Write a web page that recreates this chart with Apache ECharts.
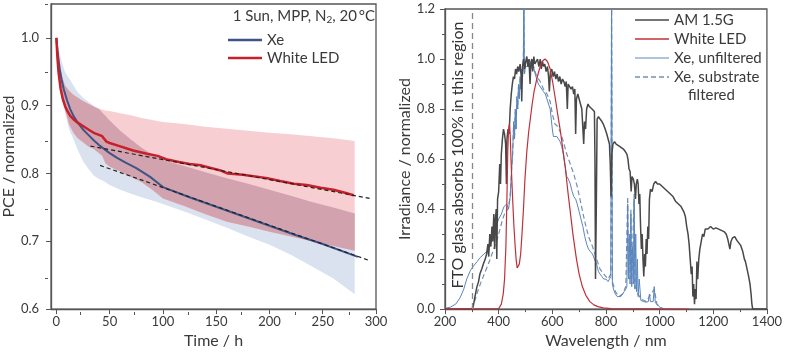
<!DOCTYPE html>
<html>
<head>
<meta charset="utf-8">
<script src="https://cdn.jsdelivr.net/npm/echarts@6/dist/echarts.min.js"></script>
<style>
  html, body { margin: 0; padding: 0; background: #fff; }
  #chart { width: 785px; height: 354px; }
</style>
</head>
<body>
<div id="chart"></div>
<script>
// ---- left panel: PCE vs time ----
const xeT = [0, 1, 2, 3, 5, 7, 10, 13, 16, 20, 25, 30, 35, 40, 45, 50, 57, 65, 75, 88, 100, 125, 150, 175, 200, 225, 250, 283];
const xePce = [1.0, 0.982, 0.968, 0.955, 0.938, 0.924, 0.908, 0.895, 0.885, 0.875, 0.865, 0.857, 0.849, 0.842, 0.836, 0.83, 0.823, 0.816, 0.808, 0.795, 0.78, 0.765, 0.751, 0.737, 0.723, 0.709, 0.696, 0.677];

const ledT = [0, 1, 2, 3, 4, 6, 8, 10, 13, 16, 20, 25, 30, 35, 40, 43, 45, 47, 50, 60, 72, 85, 95, 103, 115, 125, 136, 145, 155, 161, 175, 190, 198, 210, 223, 235, 248, 260, 270, 279];
const ledPce = [1.0, 0.97, 0.95, 0.937, 0.925, 0.91, 0.9, 0.893, 0.885, 0.88, 0.875, 0.87, 0.865, 0.86, 0.857, 0.855, 0.851, 0.847, 0.845, 0.84, 0.834, 0.829, 0.826, 0.821, 0.817, 0.814, 0.812, 0.808, 0.804, 0.8, 0.798, 0.795, 0.793, 0.789, 0.785, 0.783, 0.779, 0.776, 0.772, 0.768];

// spread bands
const bandT = [0, 2, 5, 8, 12, 16, 20, 25, 30, 35, 40, 43, 46, 50, 60, 70, 80, 90, 100, 120, 140, 160, 180, 200, 220, 240, 260, 280];
const xeUp = [1.0, 0.985, 0.965, 0.95, 0.94, 0.93, 0.92, 0.912, 0.906, 0.9, 0.895, 0.89, 0.885, 0.878, 0.863, 0.85, 0.838, 0.828, 0.82, 0.811, 0.802, 0.793, 0.785, 0.776, 0.767, 0.758, 0.75, 0.741];
const xeLow = [1.0, 0.955, 0.92, 0.89, 0.865, 0.851, 0.835, 0.818, 0.807, 0.797, 0.792, 0.79, 0.787, 0.783, 0.776, 0.77, 0.765, 0.76, 0.755, 0.744, 0.732, 0.72, 0.707, 0.695, 0.68, 0.663, 0.645, 0.622];
const ledUp = [1.0, 0.975, 0.945, 0.93, 0.922, 0.916, 0.912, 0.907, 0.903, 0.899, 0.896, 0.894, 0.893, 0.892, 0.889, 0.886, 0.882, 0.879, 0.876, 0.873, 0.869, 0.866, 0.863, 0.86, 0.858, 0.855, 0.852, 0.848];
const ledLow = [1.0, 0.95, 0.92, 0.895, 0.872, 0.86, 0.852, 0.846, 0.84, 0.836, 0.83, 0.826, 0.815, 0.81, 0.803, 0.795, 0.787, 0.776, 0.763, 0.752, 0.74, 0.729, 0.722, 0.714, 0.707, 0.7, 0.693, 0.686];

// linear fits (end points)
const fitLedT = [32, 295];
const fitLed = [0.8405, 0.763];
const fitXeT = [41, 295];
const fitXe = [0.812, 0.671];

// ---- right panel: spectra ----
const amWl = [200, 300, 305, 310, 318, 325, 330, 337, 343, 350, 355, 360, 363, 367, 371, 375, 378, 382, 385, 388, 391, 393, 396, 400, 404, 407, 410, 414, 418, 422, 426, 429, 431, 435, 439, 443, 447, 451, 455, 459, 463, 467, 471, 475, 480, 484, 486, 489, 493, 497, 501, 505, 509, 513, 517, 520, 524, 527, 531, 535, 540, 545, 550, 555, 559, 563, 568, 572, 577, 582, 586, 589, 593, 598, 603, 608, 613, 618, 623, 628, 633, 638, 643, 648, 652, 656, 659, 665, 670, 675, 680, 684, 687, 690, 695, 700, 705, 710, 714, 717, 720, 724, 728, 733, 738, 743, 748, 752, 757, 759, 761, 764, 767, 772, 778, 785, 790, 797, 803, 808, 813, 816, 819, 822, 826, 832, 838, 845, 852, 859, 865, 872, 878, 882, 886, 890, 894, 897, 902, 906, 910, 913, 917, 920, 923, 926, 929, 932, 935, 938, 941, 944, 947, 950, 953, 956, 959, 962, 966, 972, 978, 985, 992, 1000, 1010, 1020, 1030, 1040, 1050, 1060, 1070, 1080, 1090, 1096, 1101, 1106, 1110, 1114, 1118, 1121, 1124, 1127, 1130, 1133, 1136, 1139, 1142, 1146, 1150, 1155, 1160, 1165, 1170, 1180, 1190, 1200, 1210, 1220, 1230, 1240, 1248, 1254, 1258, 1262, 1266, 1272, 1280, 1288, 1295, 1302, 1310, 1316, 1320, 1326, 1332, 1337, 1341, 1344, 1347, 1400];
const amVal = [0, 0, 0.01, 0.04, 0.085, 0.11, 0.14, 0.16, 0.18, 0.2, 0.22, 0.26, 0.21, 0.3, 0.25, 0.33, 0.27, 0.38, 0.24, 0.36, 0.4, 0.2, 0.44, 0.47, 0.58, 0.5, 0.62, 0.68, 0.72, 0.7, 0.66, 0.5, 0.68, 0.72, 0.7, 0.8, 0.86, 0.9, 0.93, 0.92, 0.96, 0.94, 0.97, 0.95, 0.98, 0.93, 0.83, 0.97, 1.0, 0.96, 0.99, 1.01, 0.97, 1.0, 0.9, 0.98, 1.0, 0.95, 1.01, 0.98, 0.99, 1.0, 0.97, 1.0, 0.96, 0.99, 0.97, 0.98, 0.95, 0.97, 0.93, 0.87, 0.95, 0.96, 0.93, 0.95, 0.92, 0.94, 0.91, 0.93, 0.9, 0.92, 0.91, 0.89, 0.91, 0.8, 0.9, 0.9, 0.88, 0.89, 0.86, 0.88, 0.7, 0.84, 0.86, 0.84, 0.82, 0.8, 0.72, 0.66, 0.75, 0.72, 0.8, 0.82, 0.81, 0.81, 0.8, 0.8, 0.79, 0.6, 0.12, 0.4, 0.76, 0.77, 0.76, 0.75, 0.74, 0.72, 0.7, 0.68, 0.66, 0.58, 0.45, 0.62, 0.66, 0.67, 0.66, 0.66, 0.65, 0.65, 0.64, 0.63, 0.62, 0.6, 0.56, 0.55, 0.47, 0.53, 0.52, 0.5, 0.44, 0.5, 0.52, 0.5, 0.42, 0.46, 0.33, 0.24, 0.3, 0.2, 0.13, 0.22, 0.17, 0.28, 0.22, 0.33, 0.28, 0.44, 0.48, 0.47, 0.5, 0.51, 0.5, 0.5, 0.49, 0.48, 0.47, 0.46, 0.45, 0.43, 0.42, 0.41, 0.39, 0.37, 0.33, 0.3, 0.26, 0.2, 0.14, 0.17, 0.05, 0.1, 0.02, 0.08, 0.04, 0.19, 0.12, 0.2, 0.24, 0.27, 0.3, 0.29, 0.32, 0.32, 0.33, 0.32, 0.325, 0.32, 0.315, 0.31, 0.3, 0.28, 0.26, 0.24, 0.27, 0.285, 0.29, 0.275, 0.265, 0.255, 0.23, 0.2, 0.19, 0.16, 0.13, 0.1, 0.06, 0.02, 0, 0];

const ledWl = [200, 400, 410, 417, 422, 427, 431, 434, 437, 440, 443, 446, 449, 453, 457, 461, 465, 469, 473, 477, 482, 487, 492, 498, 505, 512, 518, 525, 532, 542, 552, 562, 573, 582, 592, 601, 610, 620, 629, 638, 648, 658, 668, 678, 690, 700, 712, 725, 740, 755, 770, 790, 820, 1110];
const ledVal = [0, 0.002, 0.02, 0.06, 0.12, 0.25, 0.45, 0.63, 0.72, 0.74, 0.7, 0.6, 0.52, 0.42, 0.33, 0.26, 0.2, 0.165, 0.16, 0.18, 0.22, 0.3, 0.39, 0.52, 0.63, 0.71, 0.76, 0.82, 0.87, 0.92, 0.96, 0.99, 1.0, 0.99, 0.96, 0.91, 0.85, 0.78, 0.72, 0.65, 0.57, 0.47, 0.38, 0.29, 0.2, 0.14, 0.09, 0.055, 0.03, 0.017, 0.01, 0.005, 0.002, 0];

const xeWl = [200, 220, 240, 256, 270, 281, 295, 306, 320, 330, 345, 360, 370, 380, 390, 400, 410, 420, 430, 437, 443, 448, 452, 456, 459, 462, 465, 468, 471, 474, 477, 480, 483, 486, 489, 492, 494, 496, 500, 505, 510, 515, 520, 525, 530, 536, 542, 548, 555, 561, 567, 574, 580, 586, 592, 596, 600, 604, 610, 617, 623, 629, 635, 641, 648, 654, 660, 667, 674, 680, 687, 693, 700, 707, 714, 721, 728, 735, 742, 750, 757, 765, 772, 778, 785, 792, 800, 808, 814, 818, 821, 824, 828, 835, 842, 848, 855, 862, 868, 874, 878, 881, 884, 887, 890, 893, 896, 899, 902, 905, 908, 911, 914, 917, 920, 924, 930, 940, 950, 958, 962, 966, 970, 976, 980, 984, 990, 1002, 1020];
const xeVal = [0.003, 0.008, 0.02, 0.045, 0.08, 0.12, 0.155, 0.172, 0.19, 0.205, 0.22, 0.235, 0.26, 0.3, 0.33, 0.36, 0.38, 0.41, 0.42, 0.4, 0.45, 0.55, 0.62, 0.75, 0.68, 0.8, 0.72, 0.85, 0.8, 0.9, 0.84, 0.93, 0.88, 0.96, 0.93, 0.98, 1.25, 0.94, 0.98, 1.0, 0.97, 1.0, 0.98, 0.96, 0.97, 0.94, 0.92, 0.9, 0.9, 0.88, 0.87, 0.86, 0.84, 0.82, 0.8, 0.76, 0.72, 0.69, 0.685, 0.69, 0.68, 0.67, 0.65, 0.62, 0.57, 0.53, 0.52, 0.5, 0.47, 0.45, 0.44, 0.42, 0.39, 0.36, 0.33, 0.29, 0.26, 0.24, 0.23, 0.22, 0.2, 0.18, 0.15, 0.14, 0.13, 0.12, 0.12, 0.11, 0.11, 0.13, 1.25, 0.1, 0.08, 0.06, 0.05, 0.045, 0.05, 0.055, 0.07, 0.08, 0.09, 0.42, 0.12, 0.3, 0.1, 0.38, 0.09, 0.25, 0.1, 0.44, 0.08, 0.3, 0.07, 0.2, 0.05, 0.12, 0.035, 0.03, 0.028, 0.03, 0.06, 0.03, 0.035, 0.03, 0.09, 0.025, 0.02, 0.007, 0];

const xfWl = [300, 310, 320, 335, 350, 365, 380, 395, 405, 415, 425, 435, 443, 448, 452, 456, 459, 462, 465, 468, 471, 474, 477, 480, 483, 486, 489, 492, 494, 496, 500, 510, 520, 530, 542, 555, 567, 580, 592, 600, 610, 620, 629, 641, 654, 667, 680, 693, 707, 721, 735, 750, 765, 778, 792, 808, 818, 821, 824, 835, 848, 862, 874, 881, 884, 890, 893, 896, 905, 908, 914, 920, 930, 950, 980, 990, 1010];
const xfVal = [0, 0.03, 0.065, 0.11, 0.15, 0.19, 0.235, 0.28, 0.32, 0.36, 0.39, 0.4, 0.45, 0.55, 0.62, 0.74, 0.68, 0.79, 0.72, 0.84, 0.8, 0.89, 0.84, 0.92, 0.88, 0.95, 0.93, 0.97, 1.25, 0.94, 0.97, 0.97, 0.98, 0.97, 0.93, 0.91, 0.88, 0.86, 0.83, 0.78, 0.74, 0.73, 0.71, 0.67, 0.62, 0.58, 0.54, 0.49, 0.42, 0.35, 0.29, 0.25, 0.2, 0.16, 0.14, 0.12, 0.14, 1.25, 0.11, 0.07, 0.05, 0.06, 0.09, 0.45, 0.13, 0.12, 0.4, 0.1, 0.46, 0.09, 0.08, 0.06, 0.04, 0.03, 0.08, 0.02, 0];

const ftoEdge = [300];

const timeTicks = [0, 50, 100, 150, 200, 250, 300];
const timeMinor = [25, 75, 125, 175, 225, 275];
const pceTicks = [0.6, 0.7, 0.8, 0.9, 1.0];
const pceMinor = [0.65, 0.75, 0.85, 0.95, 1.05];

const zip = (a, b) => a.map((v, i) => [v, b[i]]);

// overlap of the two spreads
const ovLow = bandT.map((t, i) => Math.max(xeLow[i], ledLow[i]));
const ovUp = bandT.map((t, i) => Math.max(ovLow[i], Math.min(xeUp[i], ledUp[i])));

const txt = '#3a3a3a';
const axisCol = '#555';
const font = 'Lato';

const colXe = '#3d5488', colLed = '#c8202a';
const colAm = '#484848', colLed2 = '#c0303a', colXeU = '#5a86bd', colXeF = '#7590ab';

function band(low, up, color) {
  return {
    type: 'custom', xAxisIndex: 0, yAxisIndex: 0, silent: true, clip: true,
    data: bandT.map((t, i) => [t, low[i], up[i]]),
    encode: { x: 0, y: [1, 2] },
    renderItem: (params, api) => {
      if (params.dataIndex !== 0) return;
      const top = bandT.map((t, i) => api.coord([t, up[i]]));
      const bot = bandT.map((t, i) => api.coord([t, low[i]])).reverse();
      return { type: 'polygon', shape: { points: top.concat(bot) }, style: { fill: color } };
    }
  };
}

// hand-placed legend rows
function legendRow(x, y, label, color, width, dash) {
  return [
    { type: 'line', shape: { x1: x, y1: y, x2: x + 34, y2: y },
      style: { stroke: color, lineWidth: width, lineDash: dash || null } },
    { type: 'text', x: x + 39, y: y,
      style: { text: label, align: 'left', verticalAlign: 'middle', fontSize: 15, fill: txt, fontFamily: font } }
  ];
}

const chart = echarts.init(document.getElementById('chart'));

chart.setOption({
  animation: false,
  textStyle: { fontFamily: font },
  grid: [
    { left: 48, top: 4, width: 328, height: 308, show: true, borderColor: axisCol, borderWidth: 1.3 },
    { left: 445, top: 9, width: 322, height: 303, show: true, borderColor: axisCol, borderWidth: 1.3 },
    { left: 48, top: 4, width: 328, height: 308 }
  ],
  xAxis: [
    { gridIndex: 0, type: 'value', min: -5, max: 300,
      name: 'Time / h', nameLocation: 'middle', nameGap: 22,
      nameTextStyle: { fontSize: 16, color: txt, fontFamily: font },
      axisLine: { onZero: false, lineStyle: { color: axisCol, width: 1.3 } },
      axisTick: { customValues: timeTicks, length: 5, lineStyle: { color: axisCol } },
      axisLabel: { customValues: timeTicks, margin: 6, fontSize: 13, color: txt },
      splitLine: { show: false } },
    { gridIndex: 1, type: 'value', min: 200, max: 1400, interval: 200,
      name: 'Wavelength / nm', nameLocation: 'middle', nameGap: 22,
      nameTextStyle: { fontSize: 16, color: txt, fontFamily: font },
      axisLine: { onZero: false, lineStyle: { color: axisCol, width: 1.3 } },
      axisTick: { length: 5, lineStyle: { color: axisCol } },
      minorTick: { show: true, splitNumber: 2, length: 3, lineStyle: { color: axisCol } },
      axisLabel: { margin: 6, fontSize: 13, color: txt, formatter: v => String(v) },
      splitLine: { show: false } },
    { gridIndex: 2, type: 'value', min: -5, max: 300,
      axisLine: { show: false, onZero: false },
      axisTick: { customValues: timeMinor, length: 3, lineStyle: { color: axisCol } },
      axisLabel: { show: false }, splitLine: { show: false } }
  ],
  yAxis: [
    { gridIndex: 0, type: 'value', min: 0.6, max: 1.05,
      name: 'PCE / normalized', nameLocation: 'middle', nameGap: 31,
      nameTextStyle: { fontSize: 16, color: txt, fontFamily: font },
      axisLine: { show: true, onZero: false, lineStyle: { color: axisCol, width: 1.3 } },
      axisTick: { show: true, customValues: pceTicks, length: 5, lineStyle: { color: axisCol } },
      axisLabel: { customValues: pceTicks, margin: 12, fontSize: 13, color: txt, formatter: v => v.toFixed(1) },
      splitLine: { show: false } },
    { gridIndex: 1, type: 'value', min: 0, max: 1.2, interval: 0.2,
      name: 'Irradiance / normalized', nameLocation: 'middle', nameGap: 27,
      nameTextStyle: { fontSize: 16, color: txt, fontFamily: font },
      axisLine: { show: true, onZero: false, lineStyle: { color: axisCol, width: 1.3 } },
      axisTick: { show: true, length: 5, lineStyle: { color: axisCol } },
      minorTick: { show: true, splitNumber: 2, length: 3, lineStyle: { color: axisCol } },
      axisLabel: { margin: 10, fontSize: 13, color: txt, formatter: v => v.toFixed(1) },
      splitLine: { show: false } },
    { gridIndex: 2, type: 'value', min: 0.6, max: 1.05,
      axisLine: { show: false, onZero: false },
      axisTick: { show: true, customValues: pceMinor, length: 3, lineStyle: { color: axisCol } },
      axisLabel: { show: false }, splitLine: { show: false } }
  ],
  graphic: [
    { type: 'text', x: 375, y: 16,
      style: { text: '{a|1 Sun, MPP, N}{s|2}{a|, 20\u2009°C}', align: 'right', verticalAlign: 'middle',
        rich: { a: { fontSize: 15, lineHeight: 18, fill: txt, fontFamily: font },
                s: { fontSize: 10, lineHeight: 10, verticalAlign: 'bottom', fill: txt, fontFamily: font } } } },
    ...legendRow(228, 40, 'Xe', colXe, 2.5),
    ...legendRow(228, 58, 'White LED', colLed, 2.5),
    { type: 'text', x: 458, y: 155, rotation: Math.PI / 2,
      style: { text: 'FTO glass absorbs 100% in this region', align: 'center', verticalAlign: 'middle',
        fontSize: 16, fill: '#333', fontFamily: font } },
    ...legendRow(635, 20, 'AM 1.5G', colAm, 1.5),
    ...legendRow(635, 39, 'White LED', colLed2, 1.3),
    ...legendRow(635, 58, 'Xe, unfiltered', colXeU, 1),
    ...legendRow(635, 77, 'Xe, substrate', colXeF, 1.3, [5, 3]),
    { type: 'text', x: 688, y: 95,
      style: { text: 'filtered', align: 'left', verticalAlign: 'middle', fontSize: 15, fill: txt, fontFamily: font } }
  ],
  series: [
    band(xeLow, xeUp, '#d9e2ee'),
    band(ledLow, ledUp, '#f7cfd2'),
    band(ovLow, ovUp, '#d2a3ae'),
    { type: 'line', name: 'Xe', xAxisIndex: 0, yAxisIndex: 0, data: zip(xeT, xePce),
      symbol: 'none', lineStyle: { color: colXe, width: 2 } },
    { type: 'line', name: 'White LED', xAxisIndex: 0, yAxisIndex: 0, data: zip(ledT, ledPce),
      symbol: 'none', lineStyle: { color: colLed, width: 2.5 } },
    { type: 'line', name: 'fitLed', xAxisIndex: 0, yAxisIndex: 0, data: zip(fitLedT, fitLed),
      symbol: 'none', silent: true, lineStyle: { color: '#222', width: 1.2, type: [4, 3] } },
    { type: 'line', name: 'fitXe', xAxisIndex: 0, yAxisIndex: 0, data: zip(fitXeT, fitXe),
      symbol: 'none', silent: true, lineStyle: { color: '#222', width: 1.2, type: [4, 3] } },

    { type: 'line', name: 'Xe, substrate filtered', xAxisIndex: 1, yAxisIndex: 1, data: zip(xfWl, xfVal),
      symbol: 'none', lineStyle: { color: colXeF, width: 1.2, type: [5, 3] },
      markLine: { silent: true, symbol: 'none', label: { show: false },
        lineStyle: { color: '#888', width: 1.3, type: [6, 4] },
        data: ftoEdge.map(v => ({ xAxis: v })) } },
    { type: 'line', name: 'Xe, unfiltered', xAxisIndex: 1, yAxisIndex: 1, data: zip(xeWl, xeVal),
      symbol: 'none', lineStyle: { color: colXeU, width: 1 } },
    { type: 'line', name: 'AM 1.5G', xAxisIndex: 1, yAxisIndex: 1, data: zip(amWl, amVal),
      symbol: 'none', lineStyle: { color: colAm, width: 1.5 } },
    { type: 'line', name: 'White LED (spectrum)', xAxisIndex: 1, yAxisIndex: 1, data: zip(ledWl, ledVal),
      symbol: 'none', lineStyle: { color: colLed2, width: 1.2 } }
  ]
});
</script>
</body>
</html>
